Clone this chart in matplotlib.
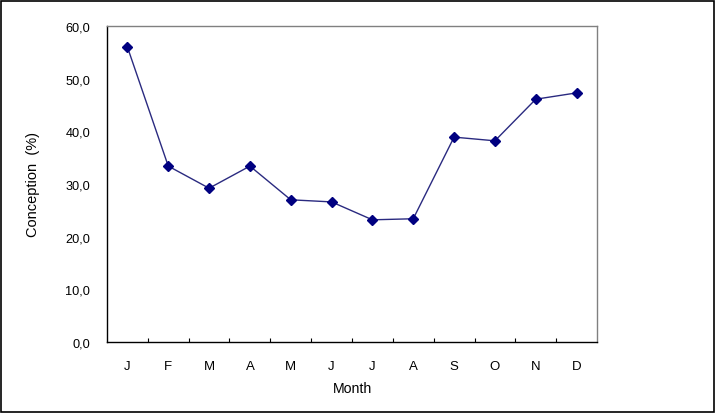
import matplotlib
matplotlib.use("Agg")
import matplotlib.pyplot as plt
from matplotlib.patches import Rectangle
from matplotlib.ticker import FuncFormatter, FixedLocator

# monthly conception rate
months = ["J", "F", "M", "A", "M", "J", "J", "A", "S", "O", "N", "D"]
conception = [56.0, 33.4, 29.2, 33.4, 27.0, 26.6, 23.2, 23.4, 38.9, 38.2, 46.1, 47.3]
y_ticks = [0, 10, 20, 30, 40, 50, 60]

plt.rcParams['font.family'] = ['Liberation Sans', 'DejaVu Sans']

W, H = 716, 414
fig = plt.figure(figsize=(W / 100, H / 100), dpi=100)

# outer chart border
fig.patches.append(Rectangle((1 / W, 1 / H), (W - 3) / W, (H - 3) / H,
                             transform=fig.transFigure, fill=False,
                             edgecolor="black", linewidth=1.2))

left, right, top, bottom = 107, 597, 27, 343
ax = fig.add_axes([left / W, (H - bottom) / H, (right - left) / W, (bottom - top) / H])

x = list(range(len(months)))
ax.plot(x, conception, color="#2a2a80", linewidth=1,
        marker="D", markersize=4.8, markerfacecolor="#000080",
        markeredgecolor="#000080")

ax.set_xlim(-0.5, len(months) - 0.5)
ax.set_ylim(0, 60)

ax.set_yticks(y_ticks)
ax.yaxis.set_major_formatter(FuncFormatter(lambda v, p: f"{v:.1f}".replace(".", ",")))
ax.tick_params(axis="y", length=0, pad=12, labelsize=9.2)

ax.set_xticks(x)
ax.set_xticklabels(months)
ax.xaxis.set_minor_locator(FixedLocator([i + 0.5 for i in x[:-1]]))
ax.tick_params(axis="x", which="major", length=0, pad=13, labelsize=9.5)
ax.tick_params(axis="x", which="minor", direction="in", length=3, width=0.8, color="black")

for side in ["top", "right"]:
    ax.spines[side].set_color("#808080")
    ax.spines[side].set_linewidth(1)
for side in ["left", "bottom"]:
    ax.spines[side].set_color("black")
    ax.spines[side].set_linewidth(1)

ax.set_xlabel("Month", fontsize=10.2, labelpad=6.5)
ax.set_ylabel("Conception  (%)", fontsize=10.5, labelpad=18)

fig.savefig("out.png", dpi=100)
